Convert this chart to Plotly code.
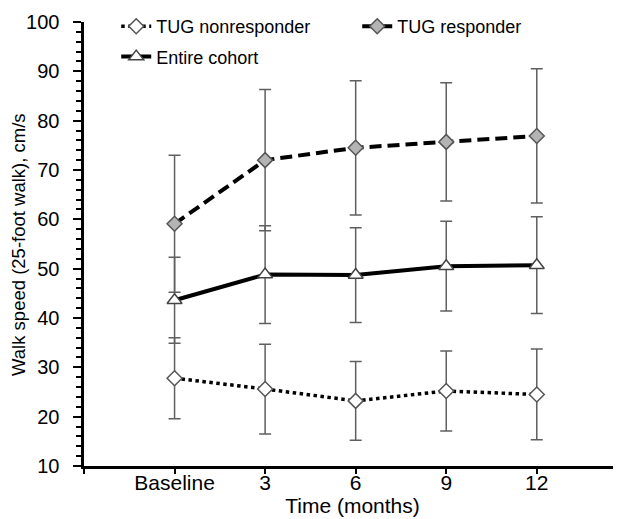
import plotly.graph_objects as go

months = ["Baseline", "3", "6", "9", "12"]

nonresp_mean = [27.8, 25.6, 23.2, 25.2, 24.5]
nonresp_sd = [8.2, 9.1, 8.0, 8.1, 9.2]

resp_mean = [59.1, 72.0, 74.5, 75.7, 76.9]
resp_sd = [13.9, 14.3, 13.6, 12.0, 13.6]

cohort_mean = [43.6, 48.8, 48.7, 50.5, 50.7]
cohort_sd = [8.7, 9.9, 9.6, 9.1, 9.8]

x_pos = list(range(1, len(months) + 1))
FONT = "Arial, Liberation Sans, sans-serif"
ERR = dict(type="data", visible=True, color="#5f5f5f", thickness=1.5, width=6)

# the page body keeps its 8px margin, so the figure is 8px smaller than the window
W, H = 613, 511

fig = go.Figure()

fig.add_trace(go.Scatter(
    x=x_pos, y=nonresp_mean, name="TUG nonresponder", legendgroup="a",
    mode="lines+markers",
    line=dict(color="black", width=3.5, dash="dot"),
    marker=dict(symbol="diamond", size=11.5, color="white", line=dict(color="#555", width=1.5)),
    error_y=dict(array=nonresp_sd, **ERR),
))
fig.add_trace(go.Scatter(
    x=x_pos, y=resp_mean, name="TUG responder", legendgroup="b",
    mode="lines+markers",
    line=dict(color="black", width=4, dash="12px,6px"),
    marker=dict(symbol="diamond", size=11.5, color="#b4b4b4", line=dict(color="#555", width=1.5)),
    error_y=dict(array=resp_sd, **ERR),
))
fig.add_trace(go.Scatter(
    x=x_pos, y=cohort_mean, name="Entire cohort", legendgroup="c",
    mode="lines+markers",
    line=dict(color="black", width=4),
    marker=dict(symbol="triangle-up", size=13, color="white", line=dict(color="#444", width=1.5)),
    error_y=dict(array=cohort_sd, **ERR),
))

# y title as an annotation so it stays put when the tick labels move
fig.add_annotation(
    text="Walk speed (25-foot walk), cm/s", textangle=-90,
    xref="paper", yref="paper", x=-0.123, y=0.5, xanchor="center", yanchor="middle",
    showarrow=False, font=dict(size=18.5),
)

fig.update_layout(
    width=W, height=H,
    margin=dict(l=76, r=0, t=14, b=53),
    plot_bgcolor="white", paper_bgcolor="white",
    font=dict(family=FONT, size=19, color="black"),
    legend=dict(
        orientation="h", x=0.06, y=1.0315, xanchor="left", yanchor="top",
        entrywidth=196, entrywidthmode="pixels", tracegroupgap=4,
        bgcolor="rgba(0,0,0,0)", font=dict(size=18),
    ),
    xaxis=dict(
        range=[0, 5.93], automargin=False,
        tickvals=[0] + x_pos, ticktext=[""] + months,
        showline=True, linecolor="black", linewidth=3,
        ticks="outside", ticklen=5, tickwidth=2, tickcolor="black",
        showgrid=False, zeroline=False, ticklabelstandoff=-9,
        title=dict(text="Time (months)", standoff=0, font=dict(size=21)),
        tickfont=dict(size=21),
    ),
    yaxis=dict(
        range=[10, 100], dtick=10, automargin=False,
        showline=True, linecolor="black", linewidth=3,
        ticks="outside", ticklen=8, tickwidth=2, tickcolor="black",
        minor=dict(dtick=2, ticks="outside", ticklen=5, tickwidth=2, tickcolor="black"),
        showgrid=False, zeroline=False, ticksuffix="\u00a0\u2009",
        tickfont=dict(size=20),
    ),
)

fig.write_html("out.html")
